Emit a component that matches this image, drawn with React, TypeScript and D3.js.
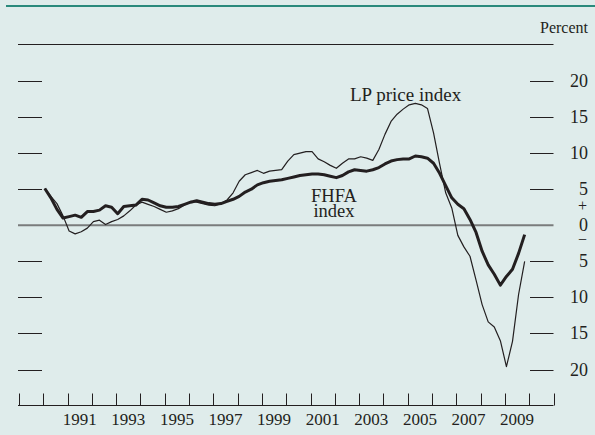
import React from "react";
import * as d3 from "d3";

// Four-quarter percent change, quarterly 1990:Q1 - 2009:Q4
const startYear = 1990;
const fhfa = [
  5.1, 3.8, 2.2, 1.0, 1.2, 1.4, 1.1, 1.9, 1.9, 2.1,
  2.7, 2.5, 1.6, 2.6, 2.7, 2.8, 3.6, 3.5, 3.1, 2.7,
  2.5, 2.5, 2.6, 2.9, 3.2, 3.4, 3.2, 3.0, 2.9, 3.0,
  3.3, 3.6, 4.0, 4.6, 5.0, 5.6, 5.9, 6.1, 6.2, 6.3,
  6.5, 6.7, 6.9, 7.0, 7.1, 7.1, 7.0, 6.8, 6.6, 6.9,
  7.4, 7.7, 7.6, 7.5, 7.7, 8.0, 8.5, 8.9, 9.1, 9.2,
  9.2, 9.6, 9.5, 9.3, 8.6, 7.2, 5.5, 3.8, 2.9, 2.3,
  0.8, -1.0, -3.6, -5.5, -6.8, -8.3, -7.1, -6.1, -3.9, -1.3,
];
const lpPrice = [
  5.1, 4.0, 3.0, 1.3, -0.8, -1.2, -0.9, -0.4, 0.5, 0.7,
  0.1, 0.5, 0.8, 1.3, 2.0, 2.8, 3.2, 2.9, 2.6, 2.2,
  1.8, 2.0, 2.3, 2.8, 3.3, 3.2, 3.0, 2.8, 2.7, 3.0,
  3.5, 4.5, 6.1, 7.0, 7.3, 7.6, 7.2, 7.5, 7.6, 7.7,
  8.9, 9.8, 10.0, 10.2, 10.2, 9.2, 8.8, 8.3, 7.9, 8.6,
  9.2, 9.2, 9.5, 9.3, 9.0, 10.5, 12.6, 14.4, 15.4, 16.1,
  16.7, 16.9, 16.7, 16.2, 12.8, 8.5, 4.5, 2.4, -1.4, -3.0,
  -4.3, -7.6, -11.0, -13.4, -14.1, -16.0, -19.6, -16.1, -9.6, -5.0,
];
const yTicks = [20, 15, 10, 5, -5, -10, -15, -20];
const xLabelYears = [1991, 1993, 1995, 1997, 1999, 2001, 2003, 2005, 2007, 2009];
const axisStart = 1989;
const axisEnd = 2011;

const W = 595;
const H = 435;
const INK = "#231f20";
const FONT = "'Liberation Serif', 'Times New Roman', serif";

export default function App() {
  const x = d3.scaleLinear().domain([axisStart, axisEnd]).range([19, 553.5]);
  const y = d3.scaleLinear().domain([-20, 20]).range([369.5, 81]);
  const t = (i: number) => startYear + i / 4 + 0.0625;

  const line = d3
    .line<number>()
    .x((_, i) => x(t(i)))
    .y((d) => y(d))
    .curve(d3.curveLinear);

  const yearTicks = d3.range(axisStart, axisEnd + 1);
  const baseY = 405.5;

  return (
    <svg
      width={W}
      height={H}
      style={{ position: "absolute", left: 0, top: 0, display: "block" }}
      fontFamily={FONT}
    >
      <rect x={0} y={0} width={W} height={H} fill="#dfeceb" />
      <rect x={6} y={5} width={W - 6} height={2} fill="#2a8a7c" />

      <text x={588} y={33} textAnchor="end" fontSize={16} fill={INK}>
        Percent
      </text>
      <line x1={18} x2={553.5} y1={44.5} y2={44.5} stroke={INK} strokeWidth={1} />

      {/* zero line */}
      <line x1={18} x2={553.5} y1={y(0)} y2={y(0)} stroke="#7a7c7c" strokeWidth={2} />

      {/* y ticks both sides */}
      {yTicks.map((v) => (
        <g key={v}>
          <line x1={18} x2={42} y1={Math.round(y(v)) + 0.5} y2={Math.round(y(v)) + 0.5} stroke={INK} strokeWidth={1} />
          <line x1={530} x2={553.5} y1={Math.round(y(v)) + 0.5} y2={Math.round(y(v)) + 0.5} stroke={INK} strokeWidth={1} />
          <text x={588} y={y(v) + 6} textAnchor="end" fontSize={18} fill={INK}>
            {Math.abs(v)}
          </text>
        </g>
      ))}
      <text x={588} y={y(0) + 6} textAnchor="end" fontSize={18} fill={INK}>
        0
      </text>
      <text x={587} y={y(2.6) + 5} textAnchor="end" fontSize={16} fill={INK}>
        +
      </text>
      <text x={587} y={y(-2.0) + 5} textAnchor="end" fontSize={16} fill={INK}>
        −
      </text>

      {/* x axis */}
      <line x1={18} x2={553.5} y1={baseY} y2={baseY} stroke={INK} strokeWidth={1} />
      {yearTicks.map((yr) => (
        <line
          key={yr}
          x1={Math.round(x(yr)) + 0.5}
          x2={Math.round(x(yr)) + 0.5}
          y1={baseY}
          y2={baseY - 12}
          stroke={INK}
          strokeWidth={1}
        />
      ))}
      {xLabelYears.map((yr) => (
        <text key={yr} x={x(yr + 0.5)} y={425} textAnchor="middle" fontSize={17} fill={INK}>
          {yr}
        </text>
      ))}

      {/* series */}
      <path d={line(lpPrice) ?? ""} fill="none" stroke={INK} strokeWidth={1.2} strokeLinejoin="round" />
      <path d={line(fhfa) ?? ""} fill="none" stroke={INK} strokeWidth={3} strokeLinejoin="round" />

      {/* labels */}
      <text x={350} y={101} fontSize={19} fill={INK}>
        LP price index
      </text>
      <text x={334} y={202} textAnchor="middle" fontSize={18.5} fill={INK}>
        FHFA
      </text>
      <text x={334} y={217} textAnchor="middle" fontSize={18.5} fill={INK}>
        index
      </text>
    </svg>
  );
}
